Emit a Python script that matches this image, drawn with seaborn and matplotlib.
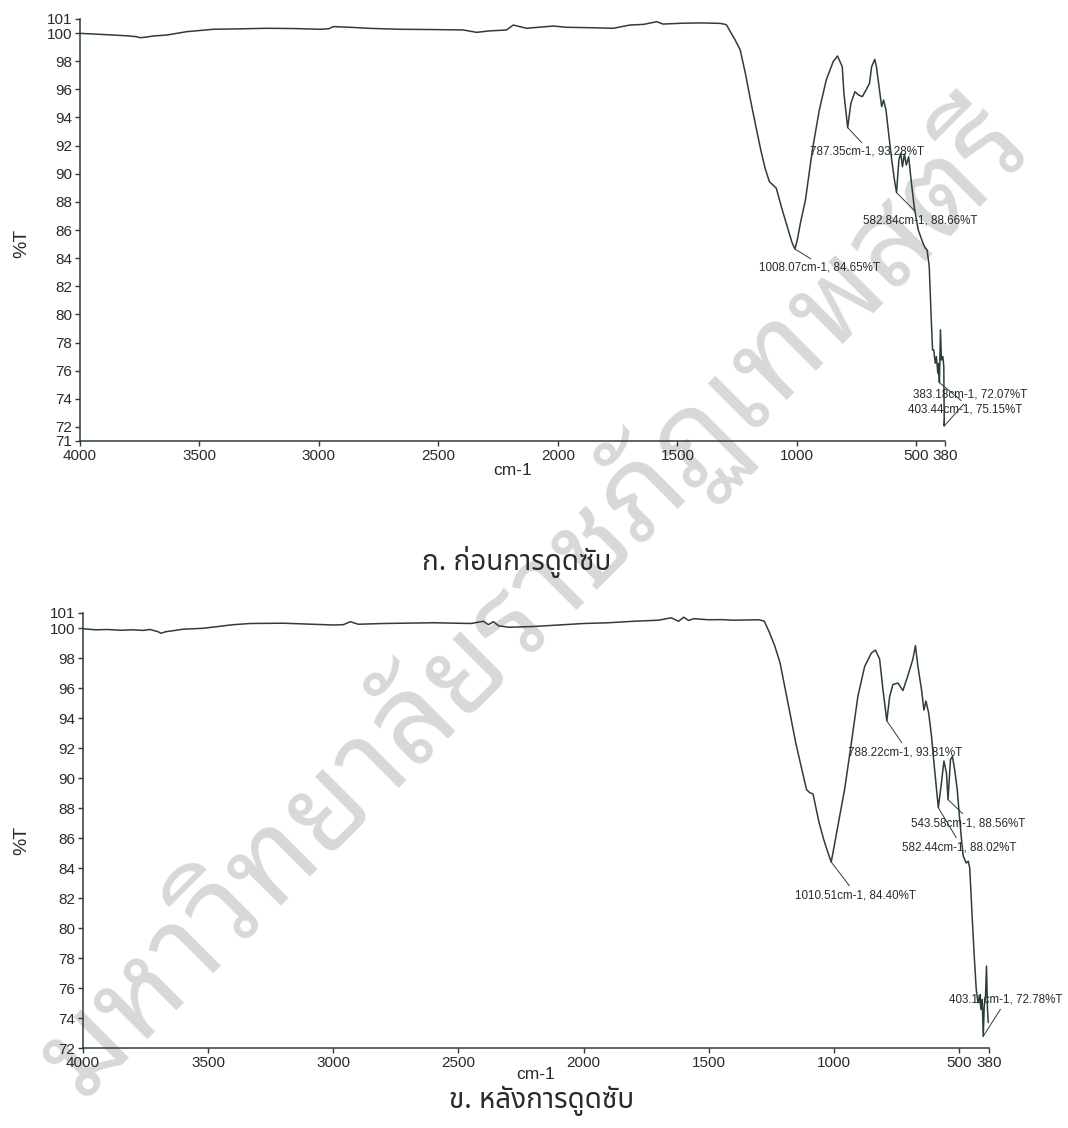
import matplotlib
matplotlib.use("Agg")
import matplotlib.pyplot as plt
from matplotlib import font_manager
from matplotlib.font_manager import FontProperties
from matplotlib.ft2font import FT2Font
import pandas as pd
import seaborn as sns

# ---------------- data ----------------
# FT-IR spectrum, before adsorption (wavenumber cm-1, %T)
before_wn = [4000, 3916, 3850, 3800, 3763, 3749, 3720, 3694, 3637, 3553, 3500, 3443,
             3330, 3219, 3100, 2996, 2960, 2940, 2870, 2780, 2661, 2530, 2396, 2340,
             2290, 2215, 2187, 2131, 2020, 1964, 1860, 1768, 1699, 1640, 1587, 1560,
             1480, 1400, 1322, 1300, 1294, 1275, 1258, 1237, 1215, 1194, 1172, 1151,
             1133, 1115, 1100, 1086, 1065, 1036, 1020, 998, 985, 964, 935, 906, 877,
             848, 830, 810, 803, 774, 757, 742, 726, 709, 696, 687, 674, 667, 656,
             645, 637, 627, 616, 603, 592, 573, 565, 558, 550, 542, 532, 522, 509,
             492, 472, 462, 455, 446, 438, 432, 427, 421, 416, 410, 407, 399, 395,
             389, 385, 381]
before_t = [99.98, 99.91, 99.85, 99.80, 99.74, 99.67, 99.72, 99.79, 99.86, 100.10, 100.18, 100.27,
            100.30, 100.34, 100.32, 100.27, 100.30, 100.46, 100.41, 100.33, 100.27, 100.25, 100.22, 100.05,
            100.15, 100.22, 100.57, 100.34, 100.50, 100.41, 100.38, 100.34, 100.57, 100.62, 100.81, 100.64,
            100.70, 100.72, 100.69, 100.62, 100.57, 100.00, 99.50, 98.80, 97.10, 95.24, 93.40, 91.69,
            90.40, 89.44, 89.20, 88.97, 87.66, 86.00, 85.10, 85.30, 86.50, 88.14, 91.69, 94.53, 96.66,
            97.97, 98.37, 97.61, 95.72, 95.00, 95.83, 95.60, 95.48, 96.00, 96.43, 97.61, 98.13, 97.61, 96.19,
            94.77, 95.24, 94.53, 92.88, 90.98, 89.60, 90.98, 91.45, 90.50, 91.40, 90.62, 91.21, 89.56, 87.66,
            86.00, 85.06, 84.70, 84.58, 83.40, 79.84, 77.47, 77.47, 76.53, 77.00, 75.82, 76.50, 78.90, 76.76,
            77.00, 76.29, 72.60]
before_peak_wn = [1008.07, 787.35, 582.84, 403.44, 383.18]
before_peak_t = [84.65, 93.28, 88.66, 75.15, 72.07]

# FT-IR spectrum, after adsorption
after_wn = [4000, 3950, 3900, 3850, 3800, 3760, 3732, 3700, 3688, 3670, 3640, 3600,
            3520, 3450, 3400, 3332, 3200, 3000, 2960, 2932, 2900, 2800, 2600, 2450,
            2400, 2380, 2360, 2340, 2300, 2200, 2100, 2000, 1900, 1800, 1700, 1650,
            1620, 1600, 1580, 1560, 1500, 1450, 1400, 1300, 1278, 1257, 1236, 1215,
            1194, 1173, 1152, 1131, 1109, 1097, 1083, 1073, 1059, 1041, 1027, 997,
            977, 957, 930, 904, 877, 850, 834, 817, 804, 777, 764, 744, 724, 704,
            684, 674, 664, 650, 640, 632, 621, 610, 600, 590, 570, 560, 550, 534,
            526, 517, 507, 498, 490, 483, 471, 463, 457, 448, 439, 431, 424, 418,
            412, 407, 399, 394, 390, 386, 383]
after_t = [99.95, 99.88, 99.90, 99.85, 99.88, 99.84, 99.90, 99.75, 99.65, 99.75, 99.82, 99.92,
           99.98, 100.12, 100.22, 100.30, 100.32, 100.20, 100.22, 100.42, 100.25, 100.30, 100.35, 100.30,
           100.45, 100.22, 100.42, 100.15, 100.05, 100.10, 100.20, 100.30, 100.35, 100.45, 100.52, 100.68,
           100.45, 100.72, 100.50, 100.62, 100.55, 100.56, 100.52, 100.55, 100.46, 99.69, 98.80, 97.69,
           95.91, 94.13, 92.33, 90.80, 89.23, 89.03, 88.93, 88.13, 87.03, 85.93, 85.20, 85.60,
           87.43, 89.23, 92.33, 95.43, 97.43, 98.33, 98.53, 97.93, 95.93, 95.43, 96.23, 96.33, 95.83, 96.83,
           97.93, 98.83, 97.43, 95.93, 94.53, 95.13, 94.33, 92.83, 91.03, 89.30, 89.69, 91.13, 90.33, 91.23,
           91.43, 90.53, 89.23, 87.43, 85.93, 84.80, 84.33, 84.46, 84.00, 81.00, 78.13, 75.91, 75.02, 75.46,
           74.57, 75.24, 74.80, 75.46, 77.46, 74.57, 73.70]
after_peak_wn = [1010.51, 788.22, 582.44, 543.58, 403.11]
after_peak_t = [84.40, 93.81, 88.02, 88.56, 72.78]

x_ticks = [4000, 3500, 3000, 2500, 2000, 1500, 1000, 500, 380]
before_y_ticks = [71, 72, 74, 76, 78, 80, 82, 84, 86, 88, 90, 92, 94, 96, 98, 100, 101]
after_y_ticks = [72, 74, 76, 78, 80, 82, 84, 86, 88, 90, 92, 94, 96, 98, 100, 101]
captions = ["ก. ก่อนการดูดซับ", "ข. หลังการดูดซับ"]
watermark = "มหาวิทยาลัยราชภัฏเทพสตรี"

# ---------------- layout ----------------
# peak label anchor (text left edge, text centre) in data units, and leader attachment point
before_label_xy = [(1158, 83.3), (945, 91.55), (724, 86.71), (535, 73.21), (514, 74.28)]
before_relpos = [(0.47, 1.0), (0.48, 1.0), (0.48, 1.0), (0.50, 1.0), (0.47, 0.0)]
after_label_xy = [(1155, 82.2), (943, 91.73), (727, 85.4), (691, 87.0), (539, 75.2)]
after_relpos = [(0.47, 1.0), (0.49, 1.0), (0.49, 1.0), (0.48, 1.0), (0.47, 0.0)]

W, H = 1068, 1128
INK = "#2c3d3d"
TEXT = "#262b2b"

CAPTION_FONTS = ["Noto Sans Thai", "Noto Sans Thai UI", "Leelawadee UI", "Sarabun", "Loma", "Garuda"]
LOOPED_FONTS = ["Noto Sans Thai Looped", "Loma", "Garuda", "Norasi", "Kinnari", "Sawasdee",
                "Tlwg Typo", "Umpush", "Laksaman"]


def numeric_weight(w):
    if isinstance(w, (int, float)):
        return w
    return font_manager.weight_dict.get(str(w).lower(), 400)


def thai_faces():
    found = []
    for entry in font_manager.fontManager.ttflist:
        if "CJK" in entry.name:
            continue
        try:
            cmap = FT2Font(entry.fname).get_charmap()
        except Exception:
            continue
        if 0x0E01 in cmap:
            found.append((entry, cmap))
    return found


THAI_FACES = thai_faces()


def pick_face(names, target_weight, text):
    needed = {ord(c) for c in text}
    for name in names:
        faces = [(e, cm) for e, cm in THAI_FACES if e.name == name and e.style == "normal"]
        if not faces:
            continue
        entry, cmap = min(faces, key=lambda f: abs(numeric_weight(f[0].weight) - target_weight))
        if needed <= set(cmap):
            return FontProperties(fname=entry.fname)
        return FontProperties(family=[name, "DejaVu Sans"], weight=target_weight)
    return FontProperties(family=["DejaVu Sans"])


sns.set_style("ticks")
plt.rcParams["font.family"] = ["Liberation Sans", "DejaVu Sans"]

caption_font = pick_face(CAPTION_FONTS, 340, "".join(captions))
wm_font = pick_face(LOOPED_FONTS + CAPTION_FONTS, 300, watermark)


def spectrum_frame(wn, t, peak_wn, peak_t):
    df = pd.DataFrame({"wn": list(wn) + list(peak_wn), "T": list(t) + list(peak_t)})
    return df.sort_values("wn", ascending=False).reset_index(drop=True)


fig = plt.figure(figsize=(W / 100, H / 100), dpi=100)
fig.patch.set_facecolor("white")

panels = [
    dict(rect=[80 / W, 1 - 441 / H, 865 / W, 422 / H], ylim=(71, 101), yticks=before_y_ticks,
         wn=before_wn, t=before_t, pwn=before_peak_wn, pt=before_peak_t,
         lab=before_label_xy, rel=before_relpos, ylab=(-0.058, 0.469), xlab=-0.052,
         cap=(517 / W, 1 - 570 / H)),
    dict(rect=[83 / W, 1 - 1048 / H, 906 / W, 435 / H], ylim=(72, 101), yticks=after_y_ticks,
         wn=after_wn, t=after_t, pwn=after_peak_wn, pt=after_peak_t,
         lab=after_label_xy, rel=after_relpos, ylab=(-0.0585, 0.478), xlab=-0.044,
         cap=(542 / W, 1 - 1108 / H)),
]

for i, p in enumerate(panels):
    ax = fig.add_axes(p["rect"])
    ax.set_facecolor("none")
    df = spectrum_frame(p["wn"], p["t"], p["pwn"], p["pt"])
    sns.lineplot(data=df, x="wn", y="T", sort=False, estimator=None, ax=ax,
                 color=INK, linewidth=1.1)
    ax.set_xlim(4000, 380)
    ax.set_ylim(*p["ylim"])
    ax.set_xticks(x_ticks)
    ax.set_xticklabels([str(v) for v in x_ticks])
    ax.set_yticks(p["yticks"])
    ax.set_yticklabels([str(v) for v in p["yticks"]])
    sns.despine(ax=ax)
    for side in ("left", "bottom"):
        ax.spines[side].set_color(INK)
        ax.spines[side].set_linewidth(1.1)
    ax.tick_params(axis="both", colors=INK, labelcolor=TEXT, labelsize=11,
                   length=3.5, width=1.0, pad=2)
    ax.set_xlabel("cm-1", fontsize=12.5, color=TEXT, va="top")
    ax.xaxis.set_label_coords(0.5, p["xlab"])
    ax.set_ylabel("%T", fontsize=14, color=TEXT)
    ax.yaxis.set_label_coords(*p["ylab"])

    for wn, t, (tx, ty), rel in zip(p["pwn"], p["pt"], p["lab"], p["rel"]):
        ax.annotate(f"{wn:.2f}cm-1, {t:.2f}%T", xy=(wn, t), xytext=(tx, ty),
                    textcoords="data", ha="left", va="center", fontsize=8.4,
                    color=TEXT, annotation_clip=False,
                    arrowprops=dict(arrowstyle="-", color=INK, lw=0.7,
                                    relpos=rel, shrinkA=0, shrinkB=0))

    fig.text(p["cap"][0], p["cap"][1], captions[i], ha="center", va="baseline",
             fontproperties=caption_font, fontsize=20, color=TEXT)

# light diagonal watermark behind both panels
probe = fig.text(0, 0, watermark, fontproperties=wm_font, fontsize=100)
fig.canvas.draw()
span = probe.get_window_extent().width
probe.remove()
wm_size = 100 * 1350 / max(span, 1)
fig.text(532 / W, 1 - 598 / H, watermark, fontproperties=wm_font, fontsize=wm_size,
         color="#d8d8d8", rotation=45, rotation_mode="anchor",
         ha="center", va="center", zorder=-5)

fig.savefig("out.png", dpi=100, facecolor="white")
